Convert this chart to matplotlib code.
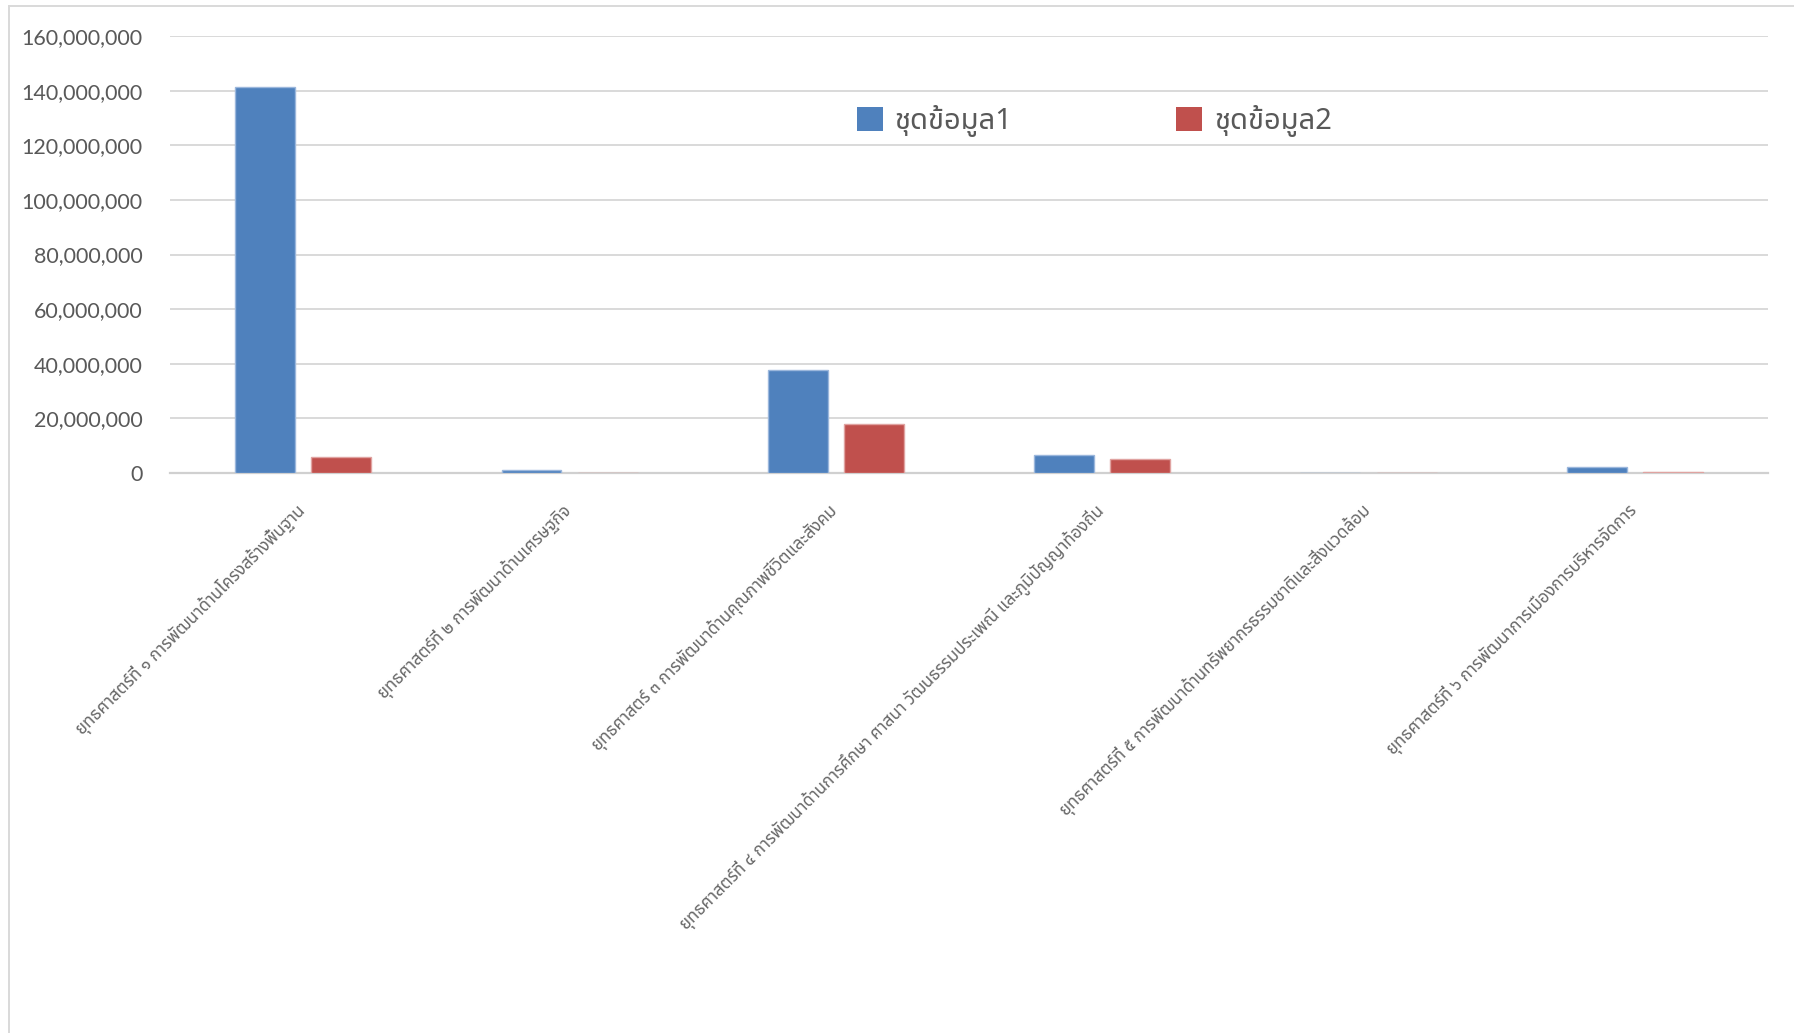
import matplotlib
matplotlib.use('Agg')
import matplotlib.pyplot as plt
import numpy as np
from matplotlib import font_manager
from matplotlib.ft2font import FT2Font
from matplotlib.ticker import FuncFormatter
from matplotlib.lines import Line2D

categories = [
    'ยุทธศาสตร์ที่ ๑ การพัฒนาด้านโครงสร้างพื้นฐาน',
    'ยุทธศาสตร์ที่ ๒ การพัฒนาด้านเศรษฐกิจ',
    'ยุทธศาสตร์ ๓ การพัฒนาด้านคุณภาพชีวิตและสังคม',
    'ยุทธศาสตร์ที่ ๔ การพัฒนาด้านการศึกษา ศาสนา วัฒนธรรมประเพณี และภูมิปัญญาท้องถิ่น',
    'ยุทธศาสตร์ที่ ๕ การพัฒนาด้านทรัพยากรธรรมชาติและสิ่งแวดล้อม',
    'ยุทธศาสตร์ที่ ๖ การพัฒนาการเมืองการบริหารจัดการ',
]
series1 = [141300000, 1000000, 37900000, 6500000, 100000, 2300000]
series2 = [5900000, 0, 17800000, 5200000, 0, 300000]
series_names = ['ชุดข้อมูล1', 'ชุดข้อมูล2']
yticks = np.arange(0, 160000001, 20000000)


# look for an installed font that has Thai glyphs
def thai_font():
    names = []
    for f in font_manager.fontManager.ttflist:
        try:
            cmap = FT2Font(f.fname).get_charmap()
        except Exception:
            continue
        if 0x0E01 in cmap and f.name not in names:
            names.append(f.name)
    for pref in ['Noto Sans Thai', 'Noto Sans Thai UI', 'Loma', 'Garuda', 'Sarabun', 'Tlwg Typo']:
        if pref in names:
            return pref
    return names[0] if names else None

tf = thai_font()
thai_family = [tf, 'DejaVu Sans'] if tf else ['DejaVu Sans']

fig = plt.figure(figsize=(17.94, 10.33), dpi=100)
ax = fig.add_axes([0.0948, 0.5421, 0.8907, 0.4230])

x = np.arange(len(categories))
w = 0.225
off = 0.143
ax.bar(x - off, series1, w, color='#4f81bd', edgecolor='#9bb7dc', linewidth=1, label=series_names[0], zorder=3)
ax.bar(x + off, series2, w, color='#c0504d', edgecolor='#e0a3a1', linewidth=1, label=series_names[1], zorder=3)

ax.set_xlim(-0.5, len(categories) - 0.5)
ax.set_ylim(0, 160000000)
ax.set_yticks(yticks)
ax.yaxis.set_major_formatter(FuncFormatter(lambda v, p: f'{int(v):,}'))
ax.grid(axis='y', color='#d9d9d9', linewidth=1.4, zorder=0)
ax.set_axisbelow(True)
for s in ['top', 'right', 'left']:
    ax.spines[s].set_visible(False)
ax.spines['bottom'].set_color('#d0d0d0')
ax.spines['bottom'].set_linewidth(1.6)
ax.tick_params(axis='both', length=0)
ax.tick_params(axis='y', pad=20)
for lab in ax.get_yticklabels():
    lab.set_fontfamily('Lato')
    lab.set_fontsize(15.5)
    lab.set_color('#595959')

ax.set_xticks(x - 0.03)
ax.set_xticklabels(categories, rotation=45, ha='right', va='top', rotation_mode='anchor',
                   family=thai_family, fontsize=12.2, color='#666666')
ax.tick_params(axis='x', pad=20)

leg = fig.legend(loc='center', bbox_to_anchor=(0.610, 0.883), ncol=2, frameon=False,
                 prop={'family': thai_family, 'size': 21}, handlelength=0.89, handleheight=0.89,
                 handletextpad=0.41, columnspacing=5.6, labelcolor='#595959')
for h in leg.legend_handles:
    h.set_edgecolor('none')

# outer chart border (left and top edges visible)
bx = 9 / 1794
by = 1 - 6 / 1033
fig.add_artist(Line2D([bx, bx], [0, by], color='#d9d9d9', linewidth=1.4, transform=fig.transFigure))
fig.add_artist(Line2D([bx, 1], [by, by], color='#d9d9d9', linewidth=1.4, transform=fig.transFigure))

fig.savefig('out.png', dpi=100, facecolor='white')
